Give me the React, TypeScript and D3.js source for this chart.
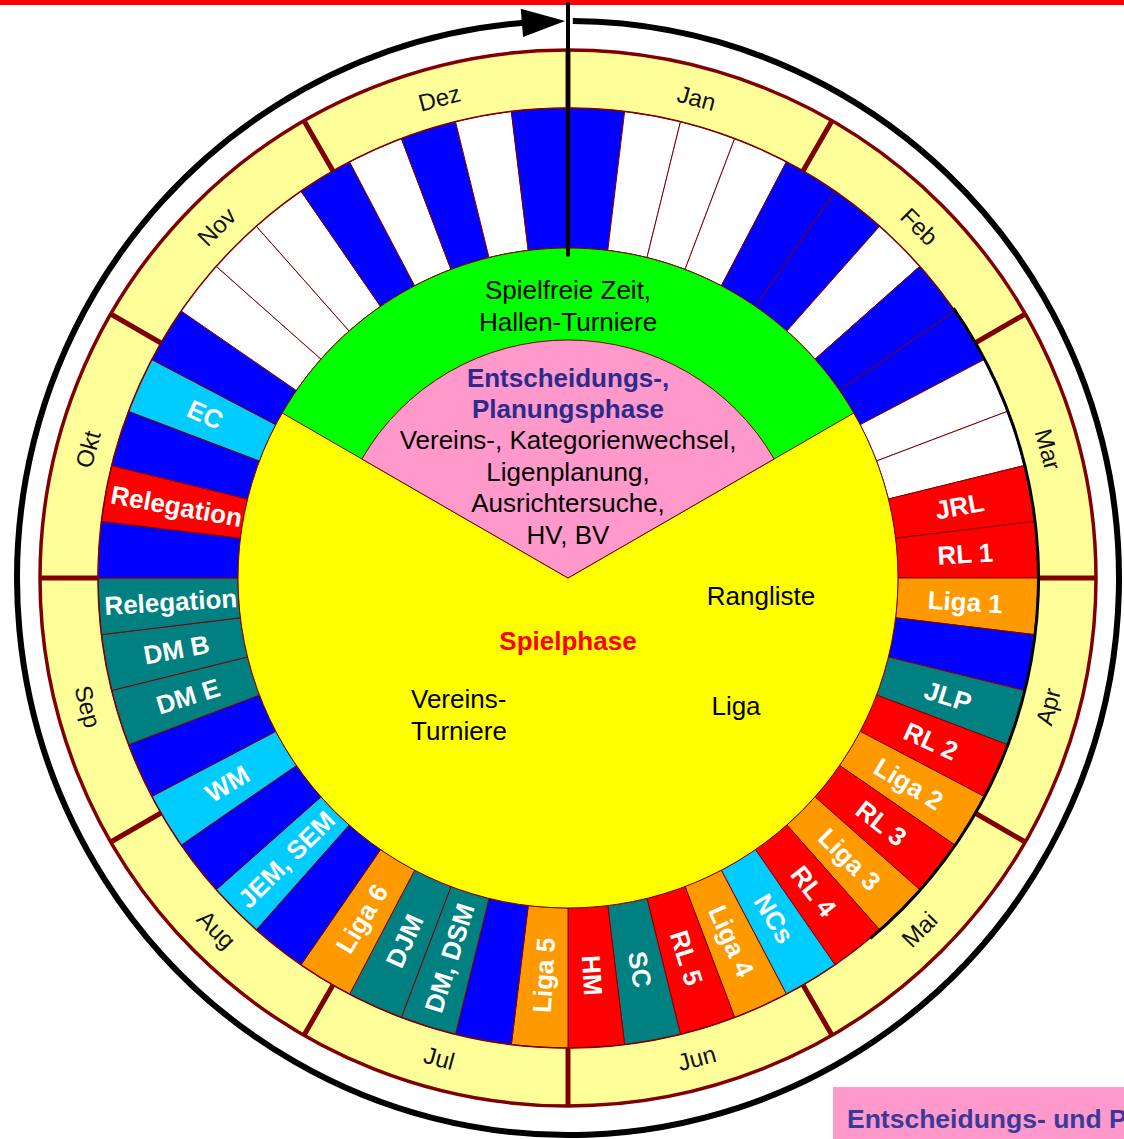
import React from 'react';
import * as d3 from 'd3';

const W = 1124;
const H = 1139;
const CX = 568;
const CY = 578;

// outer month ring, read clockwise from the top
const months = ['Jan', 'Feb', 'Mar', 'Apr', 'Mai', 'Jun', 'Jul', 'Aug', 'Sep', 'Okt', 'Nov', 'Dez'];

// 52 weeks, clockwise from the top (b = blue, w = white, r = red, o = orange, t = teal, c = cyan)
const weekKinds = [
  'b', 'w', 'w', 'w', 'b', 'b', 'w', 'b', 'b', 'w', 'w', 'r', 'r',
  'o', 'b', 't', 'r', 'o', 'r', 'o', 'r', 'c', 'o', 'r', 't', 'r',
  'o', 'b', 't', 't', 'o', 'b', 'c', 'b', 'c', 'b', 't', 't', 't',
  'b', 'r', 'b', 'c', 'b', 'w', 'w', 'w', 'b', 'w', 'b', 'w', 'b',
];
const weekLabels = [
  '', '', '', '', '', '', '', '', '', '', '', 'JRL', 'RL 1',
  'Liga 1', '', 'JLP', 'RL 2', 'Liga 2', 'RL 3', 'Liga 3', 'RL 4', 'NCs', 'Liga 4', 'RL 5', 'SC', 'HM',
  'Liga 5', '', 'DM, DSM', 'DJM', 'Liga 6', '', 'JEM, SEM', '', 'WM', '', 'DM E', 'DM B', 'Relegation',
  '', 'Relegation', '', 'EC', '', '', '', '', '', '', '', '', '',
];

const freeLines = ['Spielfreie Zeit,', 'Hallen-Turniere'];
const planTitle = ['Entscheidungs-,', 'Planungsphase'];
const planLines = ['Vereins-, Kategorienwechsel,', 'Ligenplanung,', 'Ausrichtersuche,', 'HV, BV'];
const clubLines = ['Vereins-', 'Turniere'];
const legendText = 'Entscheidungs- und Planungsphase';

const COLORS: Record<string, string> = {
  b: '#0000FF',
  w: '#FFFFFF',
  r: '#FF0000',
  o: '#FF9900',
  t: '#008080',
  c: '#00CCFF',
};
const DARK = '#800000';
const FONT = "Arial, 'Liberation Sans', sans-serif";

const R_IN = 330;     // yellow / green disc
const R_WEEK = 470;   // outer edge of the week ring
const R_MONTH = 528;  // outer edge of the month ring
const R_PINK = 238;
const R_ARROW = 551;
const ARROW_SY = 1.011;

const deg = (d: number) => (d * Math.PI) / 180;

const weekAngle = d3.scaleLinear().domain([0, weekKinds.length]).range([0, 360]);
const monthAngle = d3.scaleLinear().domain([0, months.length]).range([0, 360]);

// polar helper, angle in degrees clockwise from 12 o'clock
const polar = (r: number, a: number): [number, number] => [r * Math.sin(deg(a)), -r * Math.cos(deg(a))];

const App = () => {
  const weekArc = d3.arc<any>().innerRadius(R_IN).outerRadius(R_WEEK);
  const ringArc = d3.arc<any>()({ innerRadius: R_WEEK, outerRadius: R_MONTH, startAngle: 0, endAngle: 2 * Math.PI });
  const greenArc = d3.arc<any>()({ innerRadius: 0, outerRadius: R_IN, startAngle: -Math.PI / 3, endAngle: Math.PI / 3 });
  const pinkArc = d3.arc<any>()({ innerRadius: 0, outerRadius: R_PINK, startAngle: -Math.PI / 3, endAngle: Math.PI / 3 });
  const shadowArc = d3.arc<any>()({ innerRadius: R_WEEK - 1, outerRadius: R_WEEK + 2, startAngle: deg(55), endAngle: deg(140) });

  // big arrow circle going clockwise round the whole year
  const arrowPath = d3.path();
  arrowPath.arc(0, 0, R_ARROW, deg(0.5 - 90), deg(355.5 - 90), false);
  const tip = polar(R_ARROW, -0.3);
  const b1 = polar(R_ARROW - 14, -4.8);
  const b2 = polar(R_ARROW + 14, -4.8);

  return (
    <svg
      width={W}
      height={H}
      viewBox={`0 0 ${W} ${H}`}
      style={{ position: 'absolute', left: 0, top: 0, display: 'block', background: '#fff' }}
      fontFamily={FONT}
    >
      <rect x={0} y={0} width={W} height={5} fill="#FF0000" />

      <g transform={`translate(${CX},${CY}) scale(1,${ARROW_SY})`}>
        <path d={arrowPath.toString()} fill="none" stroke="#000" strokeWidth={6} />
        <polygon points={[tip, b1, b2].map(p => p.join(',')).join(' ')} fill="#000" />
      </g>

      <g transform={`translate(${CX},${CY})`}>
        {/* month ring */}
        <path d={ringArc || ''} fill="#FFFF99" />
        <circle r={R_MONTH} fill="none" stroke={DARK} strokeWidth={3.5} />
        {months.map((m, i) => {
          const a = monthAngle(i);
          const p0 = polar(R_WEEK, a);
          const p1 = polar(R_MONTH, a);
          return <line key={`sep-${m}`} x1={p0[0]} y1={p0[1]} x2={p1[0]} y2={p1[1]} stroke={DARK} strokeWidth={5} />;
        })}
        {months.map((m, i) => {
          const a = monthAngle(i + 0.5);
          const [x, y] = polar(497, a);
          const rot = a > 90 && a < 270 ? a - 180 : a > 270 ? a - 360 : a;
          return (
            <text
              key={m}
              transform={`translate(${x},${y}) rotate(${rot})`}
              textAnchor="middle"
              dominantBaseline="central"
              fontSize={24}
              fill="#111"
            >
              {m}
            </text>
          );
        })}

        {/* week segments */}
        {weekKinds.map((k, i) => (
          <path
            key={`wk-${i}`}
            d={weekArc({ startAngle: deg(weekAngle(i)), endAngle: deg(weekAngle(i + 1)) }) || ''}
            fill={COLORS[k]}
            stroke={DARK}
            strokeWidth={1}
          />
        ))}
        <circle r={R_WEEK} fill="none" stroke={DARK} strokeWidth={1.5} />
        <path d={shadowArc || ''} fill="#000" />
        {weekLabels.map((lab, i) => {
          if (!lab) return null;
          const a = weekAngle(i + 0.5);
          const [x, y] = polar(398, a);
          const rot = a < 180 ? a - 90 : a - 270;
          return (
            <text
              key={`lab-${i}`}
              transform={`translate(${x},${y}) rotate(${rot})`}
              textAnchor="middle"
              dominantBaseline="central"
              fontSize={26}
              fontWeight="bold"
              fill="#fff"
            >
              {lab}
            </text>
          );
        })}

        {/* inner phases */}
        <circle r={R_IN} fill="#FFFF00" stroke={DARK} strokeWidth={1} />
        <path d={greenArc || ''} fill="#00FF00" stroke={DARK} strokeWidth={1} />
        <path d={pinkArc || ''} fill="#FF99CC" stroke={DARK} strokeWidth={1} />
      </g>

      {freeLines.map((t, i) => (
        <text key={t} x={CX} y={299 + i * 32} textAnchor="middle" fontSize={26} fill="#000">{t}</text>
      ))}
      {planTitle.map((t, i) => (
        <text key={t} x={CX} y={387 + i * 31} textAnchor="middle" fontSize={26} fontWeight="bold" fill="#2B2B8C">{t}</text>
      ))}
      {planLines.map((t, i) => (
        <text key={t} x={CX} y={449 + i * 31.5} textAnchor="middle" fontSize={26} fill="#000">{t}</text>
      ))}
      <text x={CX} y={650} textAnchor="middle" fontSize={26} fontWeight="bold" fill="#FF0000">Spielphase</text>
      <text x={761} y={605} textAnchor="middle" fontSize={26} fill="#000">Rangliste</text>
      <text x={736} y={715} textAnchor="middle" fontSize={26} fill="#000">Liga</text>
      {clubLines.map((t, i) => (
        <text key={t} x={411} y={708 + i * 32} fontSize={26} fill="#000">{t}</text>
      ))}

      <line x1={CX} y1={4} x2={CX} y2={255} stroke="#000" strokeWidth={4} strokeLinecap="round" />

      <rect x={833} y={1087} width={W - 833} height={H - 1087} fill="#FF99CC" />
      <text x={847} y={1128} fontSize={26.5} fontWeight="bold" fill="#3A3A9A">{legendText}</text>
    </svg>
  );
};

export default App;
